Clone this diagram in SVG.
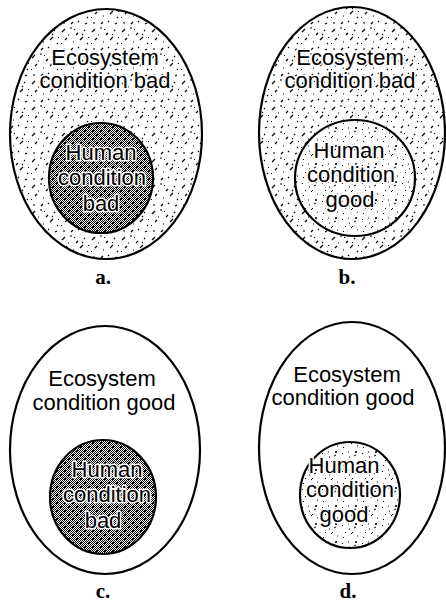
<svg xmlns="http://www.w3.org/2000/svg" width="446" height="602" viewBox="0 0 446 602">
<defs>
  <pattern id="speck" width="30" height="26" patternUnits="userSpaceOnUse">
    <rect width="30" height="26" fill="#fff"/>
    <path d="M2 6l3-3 M10 2h2 M16 9l2-2 M24 4l1 1 M5 14l2-2 M13 16h1 M20 14l3-3 M27 18l1-1 M3 23h2 M11 24l2-2 M18 21l1 1 M25 24l2-1 M8 9h1 M22 9l1-1" stroke="#000" stroke-width="1.2" fill="none"/>
    <rect x="14" y="3" width="1" height="1" fill="#000"/>
    <rect x="1" y="17" width="1" height="1" fill="#000"/>
    <rect x="28" y="11" width="1" height="1" fill="#000"/>
  </pattern>
  <pattern id="speckGood" width="20" height="18" patternUnits="userSpaceOnUse">
    <rect width="20" height="18" fill="#fff"/>
    <path d="M2 4l1-1 M8 2h1 M14 6l2-1 M5 10l1 1 M11 12l2-2 M17 14h1 M3 16l1-1 M9 7h1" stroke="#000" stroke-width="1" fill="none"/>
    <path d="M15 1l2 2 M17 1l-2 2" stroke="#000" stroke-width="0.8"/>
  </pattern>
  <pattern id="dense" width="8" height="8" patternUnits="userSpaceOnUse">
    <rect width="8" height="8" fill="#fff"/>
    <path d="M0 0h1v1h-1z M2 0h1v1h-1z M4 0h1v1h-1z M6 0h1v1h-1z M1 1h1v1h-1z M3 1h1v1h-1z M5 1h1v1h-1z M7 1h1v1h-1z M0 2h1v1h-1z M2 2h1v1h-1z M4 2h2v2h-2z M6 2h1v1h-1z M1 3h1v1h-1z M3 3h1v1h-1z M7 3h1v1h-1z M0 4h1v1h-1z M2 4h1v1h-1z M4 4h1v1h-1z M6 4h1v1h-1z M1 5h1v1h-1z M3 5h1v1h-1z M5 5h1v1h-1z M7 5h1v1h-1z M0 6h2v2h-2z M2 6h1v1h-1z M4 6h1v1h-1z M6 6h1v1h-1z M3 7h1v1h-1z M5 7h1v1h-1z M7 7h1v1h-1z" fill="#000"/>
  </pattern>
  <style>
    .outer { stroke:#000; stroke-width:2.2; }
    .inner { stroke:#000; stroke-width:2.2; }
    .t { font-family:"Liberation Sans", Arial, sans-serif; font-size:22px; fill:#000; text-anchor:middle; }
    .halo { stroke:#fff; stroke-width:3; paint-order:stroke; stroke-linejoin:round; }
    .lab { font-family:"Liberation Serif", "Times New Roman", serif; font-size:21px; font-weight:bold; fill:#000; text-anchor:middle; }
  </style>
</defs>
<rect width="446" height="602" fill="#fff"/>

<g id="panel-a">
  <ellipse class="outer" cx="106" cy="134" rx="96" ry="125" fill="url(#speck)"/>
  <text class="t halo" x="105" y="65">Ecosystem</text>
  <text class="t halo" x="105" y="88">condition bad</text>
  <g id="human-a">
    <ellipse class="inner" cx="101" cy="178" rx="52" ry="55" fill="url(#dense)"/>
    <text class="t halo" x="101" y="160">Human</text>
    <text class="t halo" x="102" y="185">condition</text>
    <text class="t halo" x="101" y="211">bad</text>
  </g>
  <text class="lab" x="103" y="284">a.</text>
</g>

<g id="panel-b">
  <ellipse class="outer" cx="352" cy="133" rx="93" ry="126" fill="url(#speck)"/>
  <text class="t halo" x="350" y="65">Ecosystem</text>
  <text class="t halo" x="350" y="88">condition bad</text>
  <g id="human-b">
    <ellipse class="inner" cx="355" cy="178" rx="60" ry="58" fill="url(#speckGood)"/>
    <text class="t halo" x="349" y="158">Human</text>
    <text class="t halo" x="351" y="182">condition</text>
    <text class="t halo" x="350" y="207">good</text>
  </g>
  <text class="lab" x="347" y="284">b.</text>
</g>

<g id="panel-c">
  <ellipse class="outer" cx="105" cy="450" rx="95" ry="124" fill="#fff"/>
  <text class="t" x="102" y="386">Ecosystem</text>
  <text class="t" x="104" y="410">condition good</text>
  <g id="human-c">
    <ellipse class="inner" cx="103" cy="497" rx="53" ry="57" fill="url(#dense)"/>
    <text class="t halo" x="107" y="477">Human</text>
    <text class="t halo" x="107" y="502">condition</text>
    <text class="t halo" x="103" y="528">bad</text>
  </g>
  <text class="lab" x="103" y="598">c.</text>
</g>

<g id="panel-d">
  <ellipse class="outer" cx="352" cy="448" rx="93" ry="126" fill="#fff"/>
  <text class="t" x="347" y="382">Ecosystem</text>
  <text class="t" x="343" y="405">condition good</text>
  <g id="human-d">
    <ellipse class="inner" cx="350" cy="495" rx="50" ry="53" fill="url(#speckGood)"/>
    <text class="t halo" x="344" y="473">Human</text>
    <text class="t halo" x="350" y="497">condition</text>
    <text class="t halo" x="344" y="522">good</text>
  </g>
  <text class="lab" x="348" y="598">d.</text>
</g>

<g id="connectors"></g>
</svg>
